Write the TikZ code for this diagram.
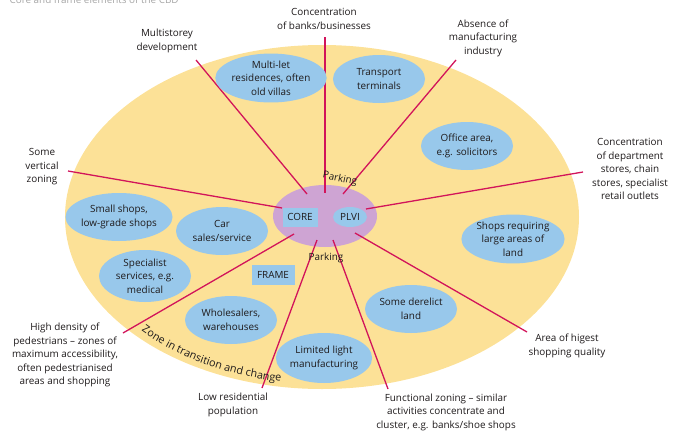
\documentclass[tikz,border=0pt]{standalone}
\usepackage{fontspec}
\setmainfont{Open Sans}
\usetikzlibrary{shapes.geometric,decorations.text}

\definecolor{zoneyellow}{HTML}{FCE197}
\definecolor{bubbleblue}{HTML}{98C8EB}
\definecolor{corepurple}{HTML}{CEA4D3}
\definecolor{spokered}{HTML}{D2145A}
\definecolor{inkgrey}{HTML}{1E1A1B}

\tikzset{
  bubble/.style={ellipse, fill=bubbleblue, minimum width=92pt, minimum height=48pt, inner sep=0pt, align=center, text=inkgrey},
  note/.style={align=center, text=inkgrey},
  spoke/.style={draw=spokered, line width=1.3pt},
}

\begin{document}
\begin{tikzpicture}[x=1pt, y=-1pt, font=\fontsize{9.9}{13.5}\selectfont]
    \useasboundingbox (0,0) rectangle (675,434);
    \clip (0,0) rectangle (675,434);

    % zones
    \coordinate (Z) at (322,217);
    \fill[zoneyellow] (Z) ellipse [x radius=257, y radius=172];
    \node[ellipse, fill=corepurple, minimum width=104pt, minimum height=62pt] (core) at (325,216) {};

    % ends of the spokes
    \coordinate (A1) at (196,60);   \coordinate (B1) at (307,194);
    \coordinate (A2) at (325,37);   \coordinate (B2) at (325,193);
    \coordinate (A3) at (456,60);   \coordinate (B3) at (343,194);
    \coordinate (A4) at (583,172);  \coordinate (B4) at (366,209);
    \coordinate (A5) at (527,332);  \coordinate (B5) at (355,233);
    \coordinate (A6) at (388,389);  \coordinate (B6) at (333,240);
    \coordinate (A7) at (262,388);  \coordinate (B7) at (317,240);
    \coordinate (A8) at (123,333);  \coordinate (B8) at (294,234);
    \coordinate (A9) at (68,171);   \coordinate (B9) at (282,208);

    \foreach \i in {1,...,9}
        \draw[spoke] (A\i) -- (B\i);

    % core
    \node[fill=bubbleblue, minimum width=35pt, minimum height=19pt, inner sep=0pt, text=inkgrey] (coretag) at (300,217) {CORE};
    \node[ellipse, fill=bubbleblue, minimum width=34pt, minimum height=20pt, inner sep=0pt, text=inkgrey] (plvi) at (350,217) {PLVI};
    \node[note, rotate=-12] (parktop) at (340,179) {Parking};
    \node[note] (parkbottom) at (326,258) {Parking};

    % frame
    \node[fill=bubbleblue, minimum width=43pt, minimum height=20pt, inner sep=0pt, text=inkgrey] (frametag) at (273,275) {FRAME};
    \node[bubble] (multilet) at (271,78) {Multi-let\\residences, often\\old villas};
    \node[bubble] (transport) at (379,79) {Transport\\terminals};
    \node[bubble] (office) at (467,146) {Office area,\\e.g. solicitors};
    \node[bubble] (largeshops) at (513,239) {Shops requiring\\large areas of\\land};
    \node[bubble] (smallshops) at (119,217) {Small shops,\\low-grade shops};
    \node[bubble] (carsales) at (222,231) {Car\\sales/service};
    \node[bubble, minimum height=52pt] (specialist) at (145,276) {Specialist\\services, e.g.\\medical};
    \node[bubble] (wholesale) at (231,320) {Wholesalers,\\warehouses};
    \node[bubble, minimum height=50pt] (lightind) at (324,358) {Limited light\\manufacturing};
    \node[bubble] (derelict) at (411,309) {Some derelict\\land};

    \path[decorate, decoration={text along path, text color=inkgrey,
        text format delimiters={|}{|},
        text={|\fontsize{10.8}{13}\selectfont|Zone in transition and change}}]
        (Z) ++(137:247 and 167) arc [start angle=137, end angle=95, x radius=247, y radius=167];

    % notes
    \node[note, text=gray!70, anchor=base west] (title) at (6,3) {Core and frame elements of the CBD};
    \node[note] (banks) at (324,19) {Concentration\\of banks/businesses};
    \node[note] (multistorey) at (167,41) {Multistorey\\development};
    \node[note] (nomanuf) at (483,38) {Absence of\\manufacturing\\industry};
    \node[note] (vertical) at (42,167) {Some\\vertical\\zoning};
    \node[note] (department) at (630,169) {Concentration\\of department\\stores, chain\\stores, specialist\\retail outlets};
    \node[note] (quality) at (567,346) {Area of higest\\shopping quality};
    \node[note] (functional) at (446,412) {Functional zoning -- similar\\activities concentrate and\\cluster, e.g. banks/shoe shops};
    \node[note] (lowres) at (233,405) {Low residential\\population};
    \node[note] (pedestrians) at (65,355) {High density of\\pedestrians -- zones of\\maximum accessibility,\\often pedestrianised\\areas and shopping};
\end{tikzpicture}
\end{document}
